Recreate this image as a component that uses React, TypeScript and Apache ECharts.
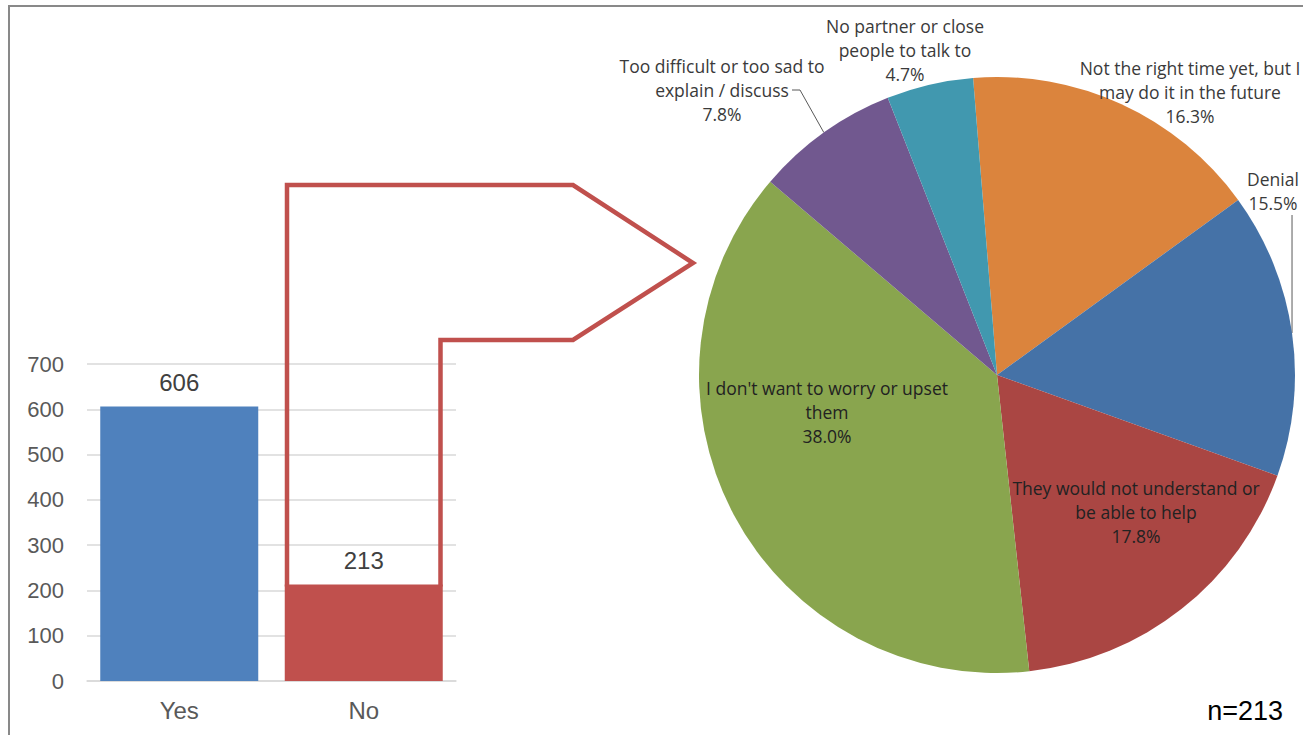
import React, { useEffect, useRef } from "react";
import * as echarts from "echarts";

const barCategories = ["Yes", "No"];
const barValues = [606, 213];
const barColors = ["#4F81BD", "#C0504D"];
const yTicks = { min: 0, max: 700, interval: 100 };

const pieNames = [
  "Not the right time yet, but I\nmay do it in the future",
  "Denial",
  "They would not understand or\nbe able to help",
  "I don't want to worry or upset\nthem",
  "Too difficult or too sad to\nexplain / discuss",
  "No partner or close\npeople to talk to",
];
const pieValues = [16.3, 15.5, 17.8, 38.0, 7.8, 4.7];
const pieColors = ["#DB843D", "#4572A7", "#AA4643", "#89A54E", "#71588F", "#4198AF"];
const sampleNote = "n=213";

// label placement (centre of text block) for each slice
const labelCentres: number[][] = [
  [1190, 92],
  [1273, 191],
  [1136, 512],
  [827, 412],
  [722, 90],
  [905, 50],
];
const leaderSlices = [1, 4];

export default function App() {
  const ref = useRef<HTMLDivElement>(null);
  useEffect(() => {
    if (!ref.current) return;
    const chart = echarts.init(ref.current, undefined, { renderer: "svg" });
    const pieLabelFont = "'Open Sans', Lato, sans-serif";
    const sans = "'Liberation Sans', Arial, sans-serif";
    const option: any = {
      animation: false,
      backgroundColor: "#ffffff",
      grid: { left: 87, right: 847, top: 364, bottom: 54, containLabel: false },
      xAxis: {
        type: "category",
        data: barCategories,
        axisLine: { show: true, lineStyle: { color: "#d9d9d9", width: 1.5 } },
        axisTick: { show: false },
        axisLabel: { fontSize: 24, color: "#595959", margin: 17, fontFamily: sans },
      },
      yAxis: {
        type: "value",
        min: yTicks.min,
        max: yTicks.max,
        interval: yTicks.interval,
        axisLine: { show: false },
        axisTick: { show: false },
        splitLine: { lineStyle: { color: "#d9d9d9", width: 1.5 } },
        axisLabel: { fontSize: 22, color: "#595959", margin: 23, fontFamily: sans },
      },
      series: [
        {
          type: "bar",
          data: barValues.map((v, i) => ({ value: v, itemStyle: { color: barColors[i] } })),
          barWidth: 158,
          label: {
            show: true,
            position: "top",
            distance: 12,
            fontSize: 24,
            color: "#404040",
            fontFamily: sans,
          },
          z: 2,
        },
        {
          type: "pie",
          center: [997, 375],
          radius: [0, 298],
          startAngle: 94.6,
          clockwise: true,
          avoidLabelOverlap: false,
          itemStyle: { borderWidth: 0 },
          label: {
            show: true,
            position: "outside",
            fontSize: 17.5,
            lineHeight: 24,
            color: "#3a3a3a",
            fontFamily: pieLabelFont,
            align: "center",
            formatter: (p: any) => `${p.name}\n${Number(p.value).toFixed(1)}%`,
          },
          labelLine: { show: false },
          data: pieValues.map((v, i) => ({
            name: pieNames[i],
            value: v,
            itemStyle: { color: pieColors[i] },
            label: i === 2 || i === 3 ? { color: "#222222" } : undefined,
            labelLine: leaderSlices.includes(i)
              ? { show: true, lineStyle: { color: "#595959", width: 1 } }
              : { show: false },
          })),
          labelLayout: (params: any) => {
            const i = params.dataIndex;
            const c = labelCentres[i];
            const res: any = { x: c[0], y: c[1], align: "center", verticalAlign: "middle" };
            if (leaderSlices.includes(i) && params.labelLinePoints) {
              const edge = params.labelLinePoints[0];
              if (i === 1) {
                res.labelLinePoints = [edge, [edge[0], c[1] + 24], [edge[0], c[1] + 24]];
              } else {
                res.labelLinePoints = [edge, [c[0] + 78, c[1]], [c[0] + 70, c[1]]];
              }
            }
            return res;
          },
        },
      ],
      graphic: [],
    };
    chart.setOption(option);

    const noIdx = 1;
    const top = chart.convertToPixel({ gridIndex: 0 }, [barCategories[noIdx], barValues[noIdx]]) as number[];
    const half = 158 / 2;
    const lw = 4.5;
    const lx = top[0] - half + lw / 2;
    const rx = top[0] + half - lw / 2;
    const by = top[1] + 2;
    chart.setOption({
      graphic: [
        {
          type: "polyline",
          z: 100,
          shape: {
            points: [
              [lx, by],
              [lx, 185],
              [573, 185],
              [693, 263],
              [573, 340],
              [rx, 340],
              [rx, by],
            ],
          },
          style: { stroke: "#C0504D", lineWidth: lw, fill: null, lineJoin: "miter" },
        },
        {
          type: "rect",
          z: 100,
          shape: { x: 9, y: 6, width: 1400, height: 800 },
          style: { stroke: "#898989", lineWidth: 2, fill: null },
        },
        {
          type: "text",
          z: 100,
          x: 1283,
          y: 711,
          style: {
            text: sampleNote,
            fontSize: 27,
            fill: "#000000",
            align: "right",
            verticalAlign: "middle",
            fontFamily: sans,
          },
        },
      ],
    });
    return () => chart.dispose();
  }, []);
  return <div ref={ref} style={{ position: "fixed", left: 0, top: 0, width: 1303, height: 735 }} />;
}
